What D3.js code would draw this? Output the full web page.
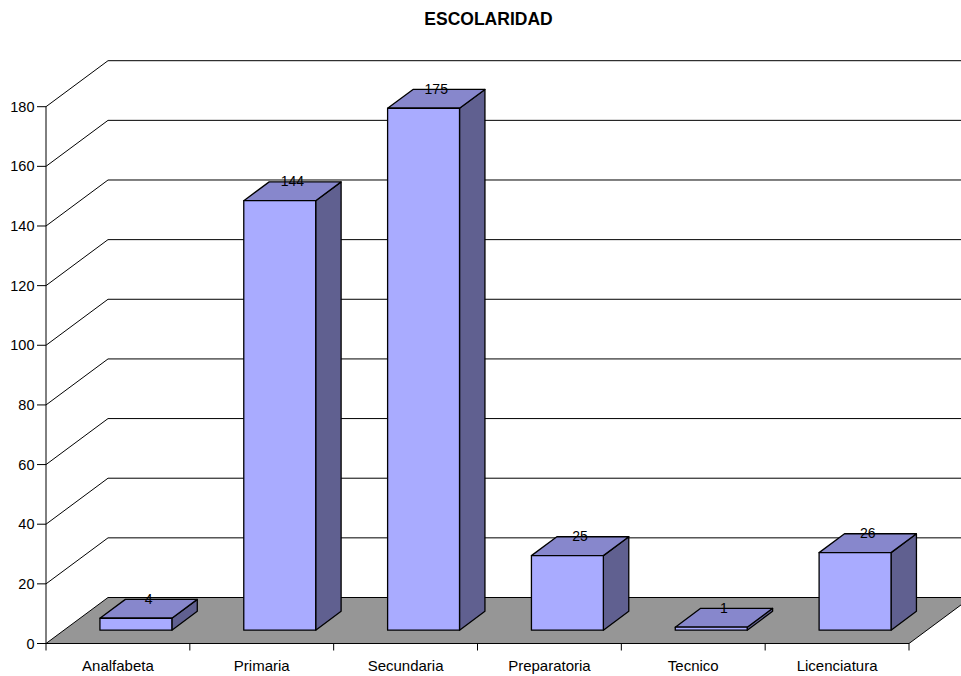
<!DOCTYPE html>
<meta charset="utf-8">
<script src="https://d3js.org/d3.v7.min.js"></script>
<style>
  body { margin: 0; background: #fff; }
  text { font-family: "Liberation Sans", Arial, sans-serif; }
</style>
<svg id="chart" width="961" height="676"></svg>
<script>
  // data
  const categories = ["Analfabeta", "Primaria", "Secundaria", "Preparatoria", "Tecnico", "Licenciatura"];
  const values = [4, 144, 175, 25, 1, 26];
  const yTicks = [0, 20, 40, 60, 80, 100, 120, 140, 160, 180];

  const svg = d3.select("#chart");

  // 3d depth of the plot
  const depthX = 62, depthY = -46;
  const frontGap = 0.29, barDepth = 0.41;

  const x = d3.scaleBand().domain(categories).range([46, 909]);
  const y = d3.scaleLinear().domain([0, 180]).range([643.5, 106.7]);

  // title
  svg.append("text")
    .attr("x", 488.5).attr("y", 25)
    .attr("text-anchor", "middle")
    .style("font-size", "17.5px").style("font-weight", "bold")
    .text("ESCOLARIDAD");

  // floor
  const x0 = x.range()[0], x1 = x.range()[1], yb = y(0);
  svg.append("polygon")
    .attr("points", [[x0, yb], [x1, yb], [x1 + depthX, yb + depthY], [x0 + depthX, yb + depthY]].join(" "))
    .attr("fill", "#969696")
    .attr("stroke", "#000").attr("stroke-width", 1);

  // gridlines (side wall diagonal + back wall)
  const grid = svg.append("g").attr("stroke", "#000").attr("stroke-width", 1).attr("fill", "none");
  yTicks.forEach(t => {
    if (t === 0) return;
    grid.append("polyline")
      .attr("points", [[x0, y(t)], [x0 + depthX, y(t) + depthY], [1000, y(t) + depthY]].join(" "));
  });

  // y axis
  svg.append("line")
    .attr("x1", x0).attr("x2", x0).attr("y1", y(180)).attr("y2", y(0))
    .attr("stroke", "#000");
  yTicks.forEach(t => {
    svg.append("line").attr("x1", x0 - 9).attr("x2", x0).attr("y1", y(t)).attr("y2", y(t)).attr("stroke", "#000");
    svg.append("text")
      .attr("x", x0 - 11.5).attr("y", y(t) + 5)
      .attr("text-anchor", "end")
      .style("font-size", "14.5px")
      .text(t);
  });

  // x axis ticks and labels
  const xTicks = categories.map(c => x(c)).concat([x1]);
  xTicks.forEach(px => {
    svg.append("line").attr("x1", px).attr("x2", px).attr("y1", yb).attr("y2", yb + 7).attr("stroke", "#000");
  });
  categories.forEach(c => {
    svg.append("text")
      .attr("x", x(c) + x.bandwidth() / 2).attr("y", yb + 27)
      .attr("text-anchor", "middle")
      .style("font-size", "15px")
      .text(c);
  });

  // bars
  const bw = x.bandwidth() * 0.5;
  const fdx = depthX * frontGap, fdy = depthY * frontGap;
  const bdx = depthX * barDepth, bdy = depthY * barDepth;

  categories.forEach((c, i) => {
    const v = values[i];
    const left = x(c) + x.bandwidth() * 0.25 + fdx;
    const right = left + bw;
    const bot = y(0) + fdy;
    const top = y(v) + fdy;
    const g = svg.append("g").attr("stroke", "#000").attr("stroke-width", 1.3).attr("stroke-linejoin", "round");
    // side
    g.append("polygon")
      .attr("points", [[right, bot], [right + bdx, bot + bdy], [right + bdx, top + bdy], [right, top]].join(" "))
      .attr("fill", "#606090");
    // top
    g.append("polygon")
      .attr("points", [[left, top], [right, top], [right + bdx, top + bdy], [left + bdx, top + bdy]].join(" "))
      .attr("fill", "#8787CC");
    // front
    g.append("rect")
      .attr("x", left).attr("y", top).attr("width", bw).attr("height", bot - top)
      .attr("fill", "#A9ABFF");
    // value label
    svg.append("text")
      .attr("x", (left + right + bdx) / 2).attr("y", top + bdy / 2 - 5)
      .attr("text-anchor", "middle")
      .style("font-size", "14px")
      .text(v);
  });
</script>
